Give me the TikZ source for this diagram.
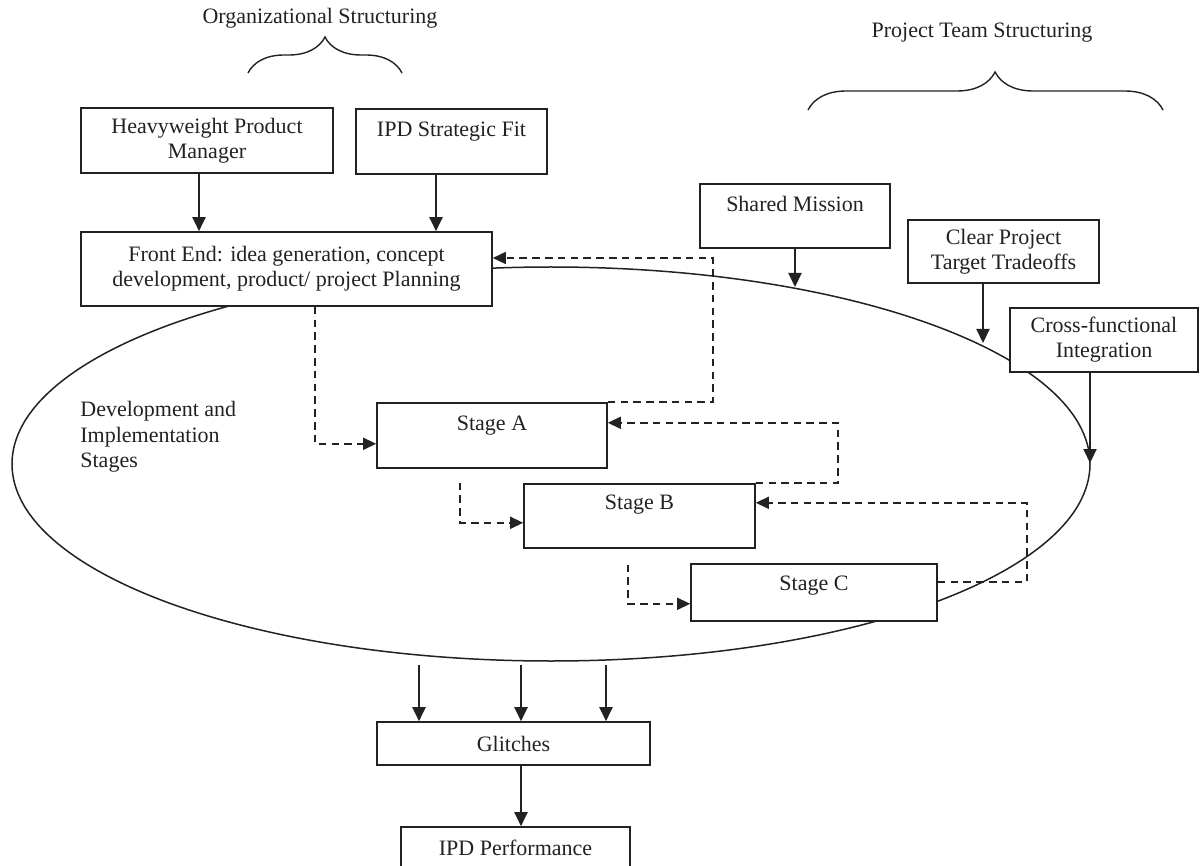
\documentclass[tikz,border=0pt]{standalone}
\usepackage{fontspec}
\setmainfont{Liberation Serif}
\usetikzlibrary{arrows.meta,decorations.pathreplacing}
\definecolor{ink}{HTML}{222222}
\begin{document}
\begin{tikzpicture}[x=0.5pt,y=-0.5pt, color=ink,
  box/.style={draw=ink, fill=white, line width=0.8pt, inner sep=0pt, align=center, text=ink,
              font=\fontsize{11}{12.5}\selectfont},
  lbl/.style={inner sep=0pt, text=ink, font=\fontsize{11}{12.5}\selectfont},
  ar/.style={line width=1.05pt, -{Triangle[length=7pt,width=6.5pt]}},
  dar/.style={line width=0.75pt, dash pattern=on 3.8pt off 2.6pt, -{Triangle[length=6.5pt,width=6pt]}},
  brc/.style={decorate, line width=0.7pt}]

\clip (0,0) rectangle (1200,866);

% big ellipse
\draw[line width=0.75pt] (551,464) ellipse [x radius=269.5pt, y radius=98.5pt];

% headings and braces
\node[lbl] (org) at (320,18) {Organizational Structuring};
\node[lbl] (pts) at (982,33) {Project Team Structuring};
\coordinate (br1a) at (248,73);
\coordinate (br1b) at (402,73);
\coordinate (br2a) at (808,110);
\coordinate (br2b) at (1163,110);
\draw[brc, decoration={brace, amplitude=18pt}] (br1a) -- (br1b);
\draw[brc, decoration={brace, amplitude=19pt, aspect=0.527}] (br2a) -- (br2b);

% boxes
\node[box, minimum width=126pt, minimum height=32.5pt] (hpm) at (207,140.5) {Heavyweight Product\\Manager};
\node[box, anchor=north, minimum width=95.5pt, text height=14pt, text depth=18.5pt] (fit) at (451.5,108) {IPD Strategic Fit};
\node[box, minimum width=205.5pt, minimum height=37pt] (fe) at (286.5,269) {Front End: idea generation, concept\\development, product/ project Planning};
\node[box, anchor=north, minimum width=95pt, text height=14pt, text depth=18pt] (sm) at (795,183) {Shared Mission};
\node[box, minimum width=95.5pt, minimum height=31.5pt] (ct) at (1003.5,251.5) {Clear Project\\Target Tradeoffs};
\node[box, minimum width=94pt, minimum height=32pt] (cf) at (1104,340) {Cross-functional\\Integration};
\node[lbl, anchor=north west, align=left, font=\fontsize{11}{12.75}\selectfont] (dev) at (80,401) {Development and\\Implementation\\Stages};
\node[box, anchor=north, minimum width=115pt, text height=14pt, text depth=18.5pt] (sa) at (492,402) {Stage A};
\node[box, anchor=north, minimum width=115.5pt, text height=13pt, text depth=19pt] (sb) at (639.5,483) {Stage B};
\node[box, anchor=north, minimum width=123pt, text height=13.5pt, text depth=15pt] (sc) at (814,563) {Stage C};
\node[box, minimum width=136.5pt, minimum height=21.5pt] (gl) at (513.5,743.5) {Glitches};
\node[box, minimum width=114.5pt, minimum height=21pt] (ipd) at (515.5,848) {IPD Performance};

% solid arrows
\draw[ar] ([xshift=-4pt]hpm.south) -- ([xshift=-4pt]hpm.south |- fe.north);
\draw[ar] ([xshift=-7.75pt]fit.south) -- ([xshift=-7.75pt]fit.south |- fe.north);
\coordinate (smE) at (795,287);
\coordinate (ctE) at (983,343);
\coordinate (cfE) at (1090,463);
\draw[ar] (sm.south) -- (smE);
\draw[ar] (ct.south -| ctE) -- (ctE);
\draw[ar] (cf.south -| cfE) -- (cfE);
\coordinate (b1) at (419,665);
\coordinate (b2) at (521,665);
\coordinate (b3) at (606,665);
\draw[ar] (b1) -- (b1 |- gl.north);
\draw[ar] (b2) -- (b2 |- gl.north);
\draw[ar] (b3) -- (b3 |- gl.north);
\draw[ar] (gl.south -| b2) -- (b2 |- ipd.north);

% dashed flows
\coordinate (c1) at (713,0);
\coordinate (c2) at (838,0);
\coordinate (c3) at (1027,0);
\draw[dar] ([xshift=14.25pt]fe.south) |- ([yshift=-4.25pt]sa.west);
\draw[dar] (sa.north east) -- (sa.north east -| c1) |- ([yshift=5.5pt]fe.east);
\draw[dar] ([xshift=-16pt,yshift=-7pt]sa.south) |- ([yshift=-3.5pt]sb.west);
\draw[dar] (sb.north east) -- (sb.north east -| c2) |- ([yshift=6.25pt]sa.east);
\draw[dar] ([xshift=-5.75pt,yshift=-8pt]sb.south) |- ([yshift=-5.75pt]sc.west);
\draw[dar] ([yshift=5.25pt]sc.east) -- ([yshift=5.25pt]sc.east -| c3) |- ([yshift=6.5pt]sb.east);
\end{tikzpicture}
\end{document}
